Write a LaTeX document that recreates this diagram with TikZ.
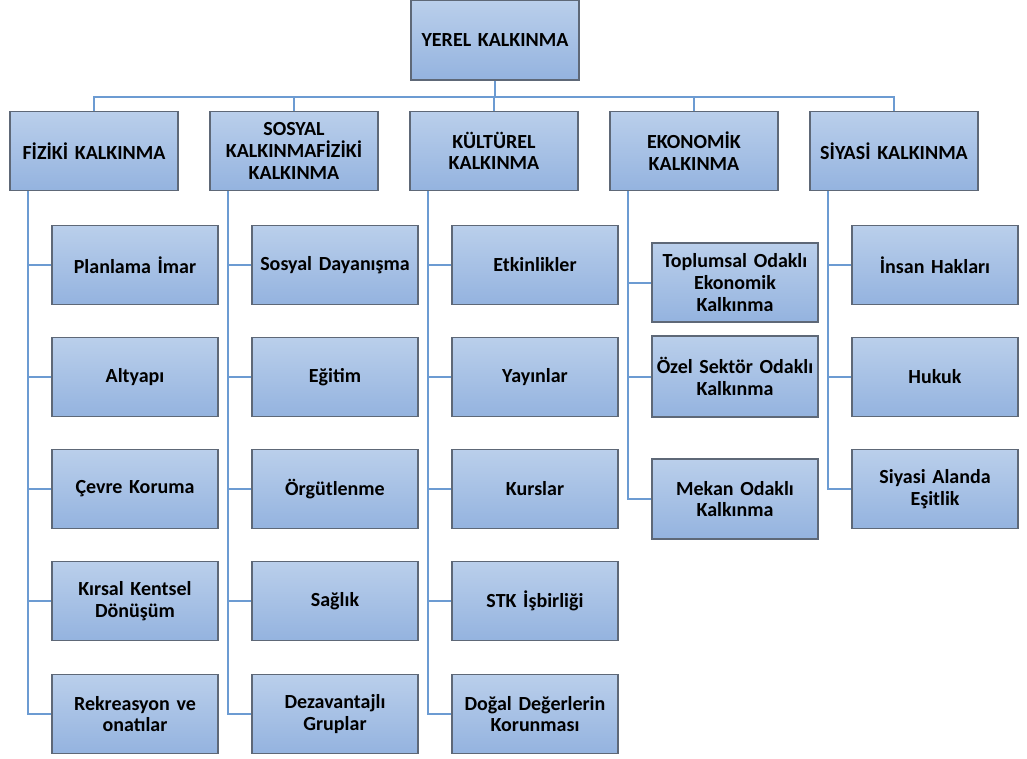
\documentclass[tikz,border=0pt]{standalone}
\usepackage{fontspec}
\setmainfont{Carlito}
\definecolor{boxtop}{HTML}{BACFEB}
\definecolor{boxbot}{HTML}{94B3DF}
\definecolor{boxedge}{HTML}{5E6877}
\definecolor{linec}{HTML}{6C9BD2}
\begin{document}
\begin{tikzpicture}[x=1pt,y=-1pt,
  box/.style={draw=boxedge, line width=1.3pt, top color=boxtop, bottom color=boxbot,
    minimum width=168pt, minimum height=79pt, text width=164pt, align=center,
    inner sep=0pt, font=\fontsize{20}{21.7}\selectfont\bfseries},
  cbox/.style={box, minimum width=166pt, text width=162pt},
  conn/.style={draw=linec, line width=2pt}]
\useasboundingbox (0,0) rectangle (1027,758);
\node[box, minimum height=80pt] (root) at (495,40) {YEREL KALKINMA};
\coordinate (bus) at (495,97);
\node[box] (fiz) at (94,151) {FİZİKİ KALKINMA};
\node[box] (sos) at (294,151) {SOSYAL\\KALKINMAFİZİKİ\\KALKINMA};
\node[box] (kul) at (494,151) {KÜLTÜREL\\KALKINMA};
\node[box] (eko) at (694,151) {EKONOMİK\\KALKINMA};
\node[box] (siy) at (894,151) {SİYASİ KALKINMA};
% Fiziki
\node[cbox] (f1) at (135,265) {Planlama  İmar};
\node[cbox] (f2) at (135,377) {Altyapı};
\node[cbox] (f3) at (135,489) {Çevre Koruma};
\node[cbox] (f4) at (135,601) {Kırsal Kentsel\\Dönüşüm};
\node[cbox] (f5) at (135,714) {Rekreasyon ve\\onatılar};
% Sosyal
\node[cbox] (s1) at (335,265) {Sosyal Dayanışma};
\node[cbox] (s2) at (335,377) {Eğitim};
\node[cbox] (s3) at (335,489) {Örgütlenme};
\node[cbox] (s4) at (335,601) {Sağlık};
\node[cbox] (s5) at (335,714) {Dezavantajlı\\Gruplar};
% Kulturel
\node[cbox] (k1) at (535,265) {Etkinlikler};
\node[cbox] (k2) at (535,377) {Yayınlar};
\node[cbox] (k3) at (535,489) {Kurslar};
\node[cbox] (k4) at (535,601) {STK İşbirliği};
\node[cbox] (k5) at (535,714) {Doğal Değerlerin\\Korunması};
% Ekonomik
\node[cbox] (e1) at (735,282.5) {Toplumsal Odaklı\\Ekonomik\\Kalkınma};
\node[cbox, minimum height=81pt] (e2) at (735,376.5) {Özel Sektör Odaklı\\Kalkınma};
\node[cbox, minimum height=80pt] (e3) at (735,499) {Mekan Odaklı\\Kalkınma};
% Siyasi
\node[cbox] (y1) at (935,265) {İnsan Hakları};
\node[cbox] (y2) at (935,377) {Hukuk};
\node[cbox] (y3) at (935,489) {Siyasi Alanda\\Eşitlik};
% top connectors
\draw[conn] (root.south) -- (bus);
\draw[conn] (fiz.north) |- (bus);
\draw[conn] (siy.north) |- (bus);
\draw[conn] (sos.north) -- (sos.north |- bus);
\draw[conn] (kul.north) -- (kul.north |- bus);
\draw[conn] (eko.north) -- (eko.north |- bus);
% children connectors
\foreach \c in {f1,f2,f3,f4,f5} \draw[conn] ([xshift=19pt]fiz.south west) |- (\c.west);
\foreach \c in {s1,s2,s3,s4,s5} \draw[conn] ([xshift=19pt]sos.south west) |- (\c.west);
\foreach \c in {k1,k2,k3,k4,k5} \draw[conn] ([xshift=19pt]kul.south west) |- (\c.west);
\foreach \c in {e1,e2,e3} \draw[conn] ([xshift=19pt]eko.south west) |- (\c.west);
\foreach \c in {y1,y2,y3} \draw[conn] ([xshift=19pt]siy.south west) |- (\c.west);
\end{tikzpicture}
\end{document}
